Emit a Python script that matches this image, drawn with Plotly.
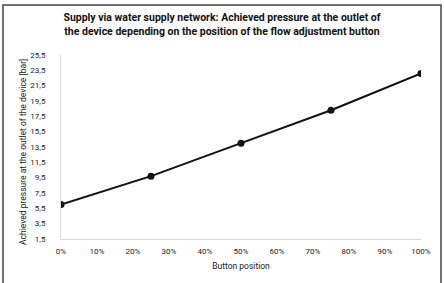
import plotly.graph_objects as go

positions = [0.0, 0.25, 0.5, 0.75, 1.0]
pressure = [6.0, 9.7, 14.0, 18.3, 23.1]
y_ticks = [1.5, 3.5, 5.5, 7.5, 9.5, 11.5, 13.5, 15.5, 17.5, 19.5, 21.5, 23.5, 25.5]
x_ticks = [0, 0.1, 0.2, 0.3, 0.4, 0.5, 0.6, 0.7, 0.8, 0.9, 1.0]

title_text = ("Supply via water supply network: Achieved pressure at the outlet of<br>"
              "the device depending on the position of the flow adjustment button")
y_title = "Achieved pressure at the outlet of the device [bar]"

W, H = 444, 283
L, R, T, B = 61, 23, 55, 44
pw, ph = W - L - R, H - T - B

fig = go.Figure()
fig.add_trace(go.Scatter(
    x=positions, y=pressure, mode="lines+markers",
    line=dict(color="#111111", width=2),
    marker=dict(color="#111111", size=7),
    showlegend=False,
))

fig.update_layout(
    width=W, height=H,
    margin=dict(l=L, r=R, t=T, b=B, autoexpand=False),
    paper_bgcolor="white", plot_bgcolor="white",
    separators=",.",
    font=dict(family="Roboto", color="#333333"),
    title=dict(text="<b>" + title_text + "</b>", x=0.5, xanchor="center",
               y=1 - 21 / H, yanchor="top",
               font=dict(family="Roboto", size=10.5, color="#111111")),
    shapes=[dict(type="rect", xref="paper", yref="paper",
                 x0=-(L - 3) / pw, x1=(W - L - 3) / pw,
                 y0=-(B + 10) / ph, y1=(H - B - 5) / ph,
                 line=dict(color="#444444", width=1.5))],
    annotations=[dict(text=y_title, textangle=-90, xref="paper", yref="paper",
                      x=(23 - L) / pw, y=(H - B - 152) / ph,
                      xanchor="center", yanchor="middle", showarrow=False,
                      font=dict(family="Roboto", size=8.5, color="#222222"))],
)
fig.update_xaxes(
    range=[0, 1], tickvals=x_ticks, tickformat=".0%",
    showgrid=False, zeroline=False, showline=True, linecolor="#d9d9d9", linewidth=1,
    ticks="", ticklabelstandoff=4, tickfont=dict(size=8, color="#222222"),
    title=dict(text="Button position", font=dict(size=8.5, color="#222222"), standoff=8),
)
fig.update_yaxes(
    range=[1.5, 25.5], tickvals=y_ticks, tickformat=".1f",
    showgrid=False, zeroline=False, showline=True, linecolor="#d9d9d9", linewidth=1,
    ticks="", ticklabelstandoff=13, tickfont=dict(size=8, color="#222222"),
)

fig.write_html("out.html", config={"displayModeBar": False},
               post_script="document.body.style.margin='0';document.body.style.overflow='hidden';")
